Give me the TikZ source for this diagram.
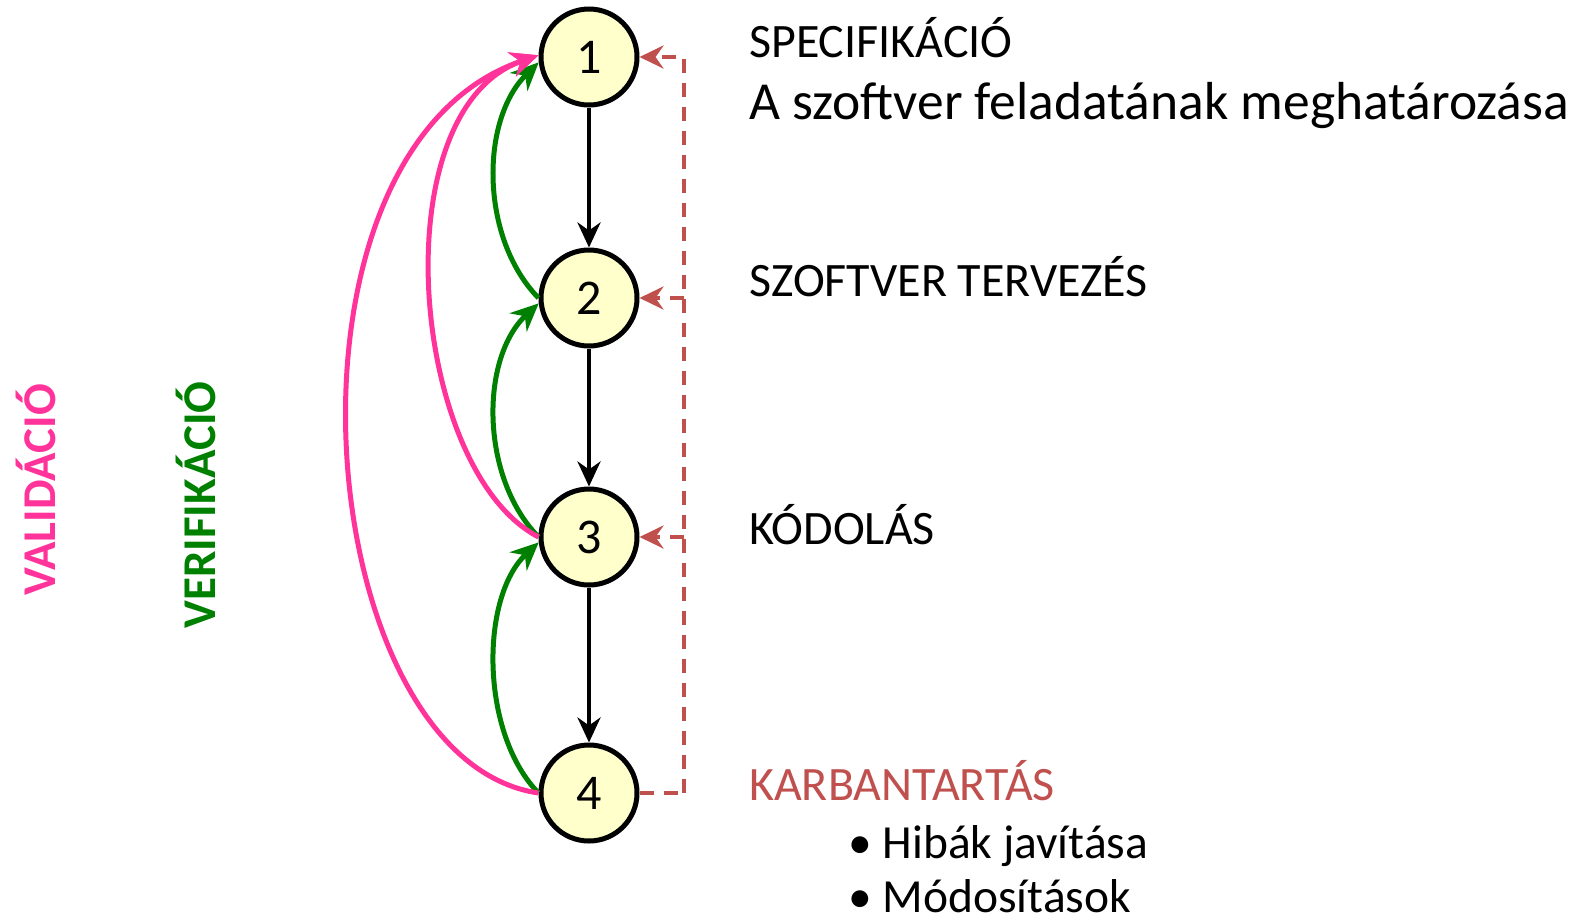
\documentclass[tikz,border=0pt]{standalone}
\usepackage{fontspec}
\setmainfont{Carlito}
\usetikzlibrary{arrows.meta,calc}

\definecolor{valcol}{HTML}{FF3399}
\definecolor{vercol}{HTML}{008000}
\definecolor{maintcol}{HTML}{C0504D}
\definecolor{phasefill}{HTML}{FFFFCC}

\tikzset{
  phase/.style={circle, draw=black, line width=5pt, fill=phasefill,
    minimum size=96pt, inner sep=0pt, font=\fontsize{50}{60}\selectfont},
  flow/.style={line width=4pt, -{Stealth[length=25pt, width=23pt, inset=8pt]}},
  verarrow/.style={vercol, line width=5pt, -{Stealth[length=28pt, width=25pt, inset=9pt]}},
  valarrow/.style={valcol, line width=5pt, -{Stealth[length=28pt, width=25pt, inset=9pt]}},
  maint/.style={maintcol, line width=4pt, dash pattern=on 14pt off 10pt},
  maintarrow/.style={maint, -{Stealth[length=24pt, width=23pt, inset=8pt]}},
  label/.style={anchor=base west, inner sep=0pt, font=\fontsize{48}{56}\selectfont},
  sidelabel/.style={rotate=90, inner sep=0pt, font=\fontsize{47}{56}\selectfont\bfseries}
}

\begin{document}
\begin{tikzpicture}[x=1pt, y=-1pt]
\useasboundingbox (0,0) rectangle (1587,919);

% phases
\node[phase] (n1) at (589,57) {1};
\node[phase] (n2) at (589,298) {2};
\node[phase] (n3) at (589,537) {3};
\node[phase] (n4) at (589,793) {4};

% forward flow
\draw[flow] (n1) -- (n2);
\draw[flow] (n2) -- (n3);
\draw[flow] (n3) -- (n4);

% verification: each phase checked against the previous one
\draw[verarrow] (n2.west) .. controls (480,238) and (480,120) .. (n1.186);
\draw[verarrow] (n3.west) .. controls (480,477) and (480,358) .. (n2.186);
\draw[verarrow] (n4.west) .. controls (480,733) and (480,597) .. (n3.186);

% validation: checked against the specification
\draw[valarrow] (n3.west) .. controls (410,470) and (380,110) .. (n1.178);
\draw[valarrow] (n4.west) .. controls (310,760) and (260,150) .. (n1.178);

% maintenance feedback
\draw[maint] (n4.east) -- (684,793) coordinate (m4);
\draw[maintarrow] (m4) -- (m4 |- n1.east) -- (n1.east);
\draw[maintarrow] (m4 |- n2.east) -- (n2.east);
\draw[maintarrow] (m4 |- n3.east) -- (n3.east);

% phase descriptions
\node[label] (t1) at (749,57) {SPECIFIKÁCIÓ};
\node[label, font=\fontsize{53.5}{62}\selectfont] (t1b) at (749,119) {A szoftver feladatának meghatározása};
\node[label] (t2) at (749,296) {SZOFTVER TERVEZÉS};
\node[label] (t3) at (749,544) {KÓDOLÁS};
\node[label, text=maintcol] (t4) at (749,800) {KARBANTARTÁS};
\node[label, font=\fontsize{47.5}{56}\selectfont] (t4a) at (848,858) {• Hibák javítása};
\node[label, font=\fontsize{47.5}{56}\selectfont] (t4b) at (848,912) {• Módosítások};

% side labels
\node[sidelabel, text=valcol] (val) at (36,490) {VALIDÁCIÓ};
\node[sidelabel, text=vercol] (ver) at (196,505) {VERIFIKÁCIÓ};
\end{tikzpicture}
\end{document}
